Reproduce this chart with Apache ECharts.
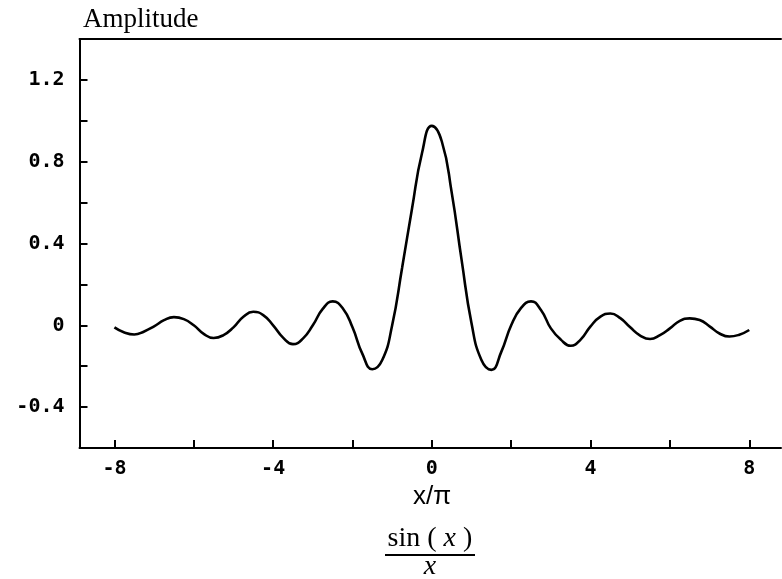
<!DOCTYPE html>
<html>
<head>
<meta charset="utf-8">
<script src="https://cdn.jsdelivr.net/npm/echarts@6/dist/echarts.min.js"></script>
<style>
html,body{margin:0;padding:0;background:#fff;}
#chart{width:782px;height:579px;}
</style>
</head>
<body>
<div id="chart"></div>
<script>
// x values in units of x/pi
const xValues = [-8,-7.75,-7.5,-7.25,-7,-6.75,-6.5,-6.25,-6,-5.75,-5.5,-5.25,-5,-4.75,-4.5,-4.25,-4,-3.75,-3.5,-3.25,-3,-2.75,-2.5,-2.25,-2,-1.75,-1.5,-1.25,-1,-0.75,-0.5,-0.25,0,0.25,0.5,0.75,1,1.25,1.5,1.75,2,2.25,2.5,2.75,3,3.25,3.5,3.75,4,4.25,4.5,4.75,5,5.25,5.5,5.75,6,6.25,6.5,6.75,7,7.25,7.5,7.75,8];
// amplitude
const amplitude = [-0.01,-0.035,-0.045,-0.03,-0.005,0.025,0.04,0.03,0.0,-0.042,-0.062,-0.048,-0.01,0.042,0.066,0.05,0.0,-0.06,-0.092,-0.065,0.0,0.08,0.117,0.085,-0.01,-0.14,-0.215,-0.17,0.0,0.28,0.57,0.84,0.975,0.9,0.65,0.32,0.01,-0.17,-0.218,-0.13,0.0,0.085,0.117,0.075,-0.015,-0.07,-0.1,-0.07,-0.005,0.042,0.058,0.035,-0.01,-0.05,-0.067,-0.048,-0.015,0.022,0.034,0.026,-0.005,-0.04,-0.055,-0.046,-0.023];
const xTickValues = [-8,-6,-4,-2,0,2,4,6,8];
const xLabelValues = [-8,-4,0,4,8];
const yTickValues = [-0.4,-0.2,0,0.2,0.4,0.6,0.8,1.0,1.2];
const yLabelValues = [-0.4,0,0.4,0.8,1.2];

const chart = echarts.init(document.getElementById('chart'), null, {renderer:'canvas'});
const monoFont = {fontFamily:'DejaVu Sans Mono', fontWeight:'bold', fontSize:20, color:'#000'};
const fmtY = v => (Math.abs(v) < 1e-9 ? '0' : (Math.round(v*10)/10).toFixed(1));
const fmtX = v => String(Math.round(v));

chart.setOption({
  animation:false,
  backgroundColor:'#fff',
  grid:{left:79.5, right:1, top:39, bottom:131},
  xAxis:[{
    type:'value', min:-8.88, max:8.8, position:'bottom',
    axisLine:{show:true, onZero:false, lineStyle:{color:'#000', width:2}},
    axisTick:{show:true, inside:true, length:8, lineStyle:{color:'#000', width:2}, customValues:xTickValues},
    axisLabel:Object.assign({margin:11, customValues:xLabelValues, formatter:fmtX}, monoFont),
    splitLine:{show:false}
  },{
    type:'value', min:-8.88, max:8.8, position:'top',
    axisLine:{show:true, onZero:false, lineStyle:{color:'#000', width:2}},
    axisTick:{show:false}, axisLabel:{show:false}, splitLine:{show:false}
  }],
  yAxis:{
    type:'value', min:-0.6, max:1.4,
    axisLine:{show:true, onZero:false, lineStyle:{color:'#000', width:2}},
    axisTick:{show:true, inside:true, length:8, lineStyle:{color:'#000', width:2}, customValues:yTickValues},
    axisLabel:Object.assign({margin:15, customValues:yLabelValues, formatter:fmtY}, monoFont),
    splitLine:{show:false}
  },
  series:[{
    type:'line', xAxisIndex:0, yAxisIndex:0,
    data:xValues.map((x,i)=>[x, amplitude[i]]),
    smooth:0.5, showSymbol:false, symbol:'none',
    lineStyle:{color:'#000', width:2.6}
  }],
  graphic:[
    {type:'text', left:83, top:6, style:{text:'Amplitude', font:'27px "Liberation Serif"', fill:'#000'}},
    {type:'text', x:432, y:497, style:{text:'x/π', font:'26px "Liberation Sans"', fill:'#000', align:'center', verticalAlign:'middle'}},
    {type:'text', x:430, y:539, style:{
      text:'{a|sin ( }{b|x}{a| )}', align:'center', verticalAlign:'middle',
      rich:{a:{fontFamily:'Liberation Serif', fontSize:28, color:'#000'}, b:{fontFamily:'Liberation Serif', fontStyle:'italic', fontSize:28, color:'#000'}}
    }},
    {type:'line', shape:{x1:385, y1:555, x2:475, y2:555}, style:{stroke:'#000', lineWidth:2}},
    {type:'text', x:430, y:567, style:{text:'x', font:'italic 28px "Liberation Serif"', fill:'#000', align:'center', verticalAlign:'middle'}}
  ]
});
</script>
</body>
</html>
